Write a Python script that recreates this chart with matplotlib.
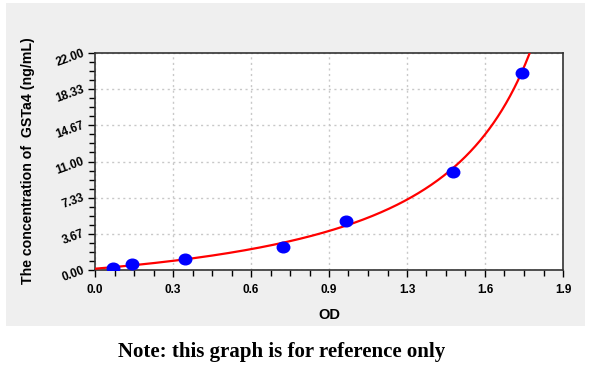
import numpy as np
import matplotlib.pyplot as plt
from matplotlib.patches import Rectangle
from matplotlib.path import Path
from matplotlib.ticker import AutoMinorLocator

# standard points
od = [0.074, 0.149, 0.365, 0.762, 1.018, 1.452, 1.732]
conc = [0.23, 0.58, 1.15, 2.36, 5.00, 9.90, 20.00]

x_ticks = [0.0, 1.9 / 6, 3.8 / 6, 5.7 / 6, 7.6 / 6, 9.5 / 6, 1.9]
x_labels = ['0.0', '0.3', '0.6', '0.9', '1.3', '1.6', '1.9']
y_ticks = [0.0, 22 / 6, 44 / 6, 11.0, 88 / 6, 110 / 6, 22.0]
y_labels = ['0.00', '3.67', '7.33', '11.00', '14.67', '18.33', '22.00']


def four_pl(c, a, b, c0, d):
    return d + (a - d) / (1 + (c / c0) ** b)


def fit_4pl(x, y):
    # crude grid search (no scipy here), refined twice around the best point
    x = np.asarray(x)[:, None]
    y = np.asarray(y)[:, None]
    ranges = [(-0.1, 0.2), (0.4, 2.5), (1.0, 60.0), (1.7, 5.0)]
    best = None
    for _ in range(4):
        grids = [np.linspace(lo, hi, 18) for lo, hi in ranges]
        A, B, C, D = [g.ravel() for g in np.meshgrid(*grids, indexing='ij')]
        pred = four_pl(x, A, B, C, D)
        err = ((pred - y) ** 2).sum(axis=0)
        i = np.argmin(err)
        best = (A[i], B[i], C[i], D[i])
        ranges = [(v - (hi - lo) / 6, v + (hi - lo) / 6) for v, (lo, hi) in zip(best, ranges)]
        ranges[2] = (max(ranges[2][0], 0.1), ranges[2][1])
        ranges[1] = (max(ranges[1][0], 0.1), ranges[1][1])
    return best


plt.rcParams['font.family'] = ['Liberation Sans', 'DejaVu Sans']

fig = plt.figure(figsize=(6, 3.68), dpi=100)
fig.patch.set_facecolor('white')
# grey panel behind the plot
fig.patches.append(Rectangle((6 / 600, 1 - 326 / 368), 579 / 600, 323 / 368,
                             transform=fig.transFigure, facecolor='#efefef',
                             edgecolor='none', zorder=0))

ax = fig.add_axes([95 / 600, 1 - 270 / 368, 468 / 600, 217 / 368])
ax.set_zorder(2)
ax.set_facecolor('white')

# fitted standard curve: OD as 4PL of concentration, drawn as conc vs OD
a, b, c0, d = fit_4pl(conc, od)
cs = np.linspace(0.0, 30, 1500)
ax.plot(four_pl(cs, a, b, c0, d), cs, color='#ff0000', linewidth=1.6, zorder=3)

circ = Path.unit_circle()
ell = Path(circ.vertices * [1, 0.85], circ.codes)
ax.plot(od, conc, linestyle='none', marker=ell, color='#0000ff', markersize=9, zorder=4)

ax.set_xlim(0, 1.9)
ax.set_ylim(0, 22)
ax.set_xticks(x_ticks)
ax.set_xticklabels(x_labels, fontsize=8.5, fontweight='bold')
ax.set_yticks(y_ticks)
ax.set_yticklabels(y_labels, fontsize=8.5, fontweight='bold', rotation=20,
                   rotation_mode='anchor', ha='right', va='center')
ax.xaxis.set_minor_locator(AutoMinorLocator(4))
ax.yaxis.set_minor_locator(AutoMinorLocator(4))
ax.tick_params(which='major', length=5, width=1, direction='out')
ax.tick_params(which='minor', length=4, width=1, direction='out')
ax.tick_params(axis='x', pad=5)
ax.tick_params(axis='y', pad=3)
ax.grid(True, which='major', color='#c8c8c8', linestyle=(0, (1.5, 2.5)), linewidth=1)
for s in ax.spines.values():
    s.set_color('#333333')
    s.set_linewidth(1.2)

ax.set_xlabel('OD', fontsize=10.5, fontweight='bold', labelpad=9)
fig.text(28 / 600, 1 - 161 / 368, 'The concentration of  GSTa4 (ng/mL)',
         rotation=90, ha='center', va='center', fontsize=10.2, fontweight='bold')

fig.text(282 / 600, 1 - 352 / 368, 'Note: this graph is for reference only',
         ha='center', va='center', fontsize=15, fontweight='bold',
         family=['Liberation Serif', 'DejaVu Serif'])

fig.savefig('out.png', dpi=100)
